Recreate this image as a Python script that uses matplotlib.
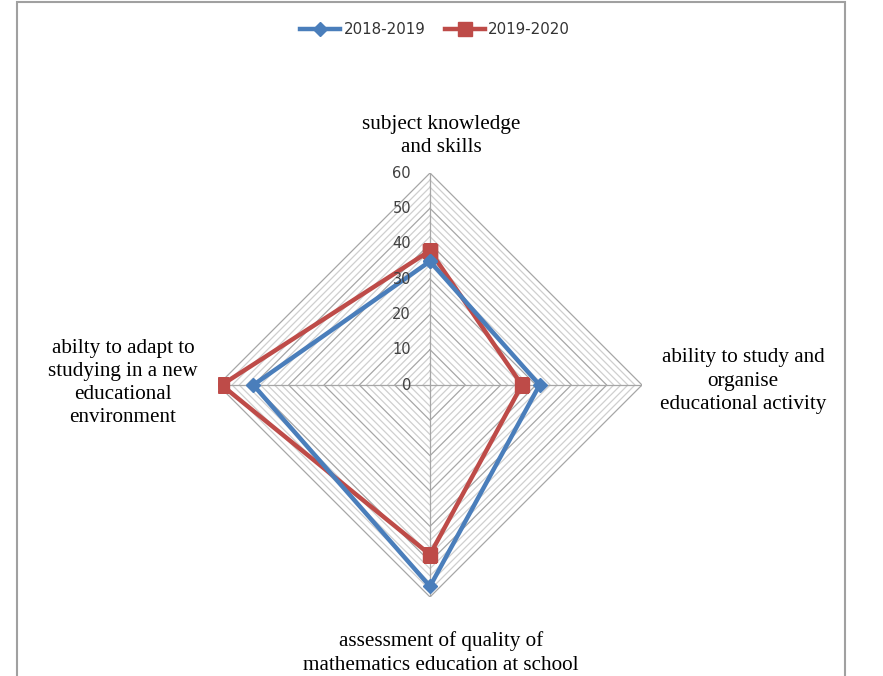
import numpy as np
import matplotlib
matplotlib.use("Agg")
import matplotlib.pyplot as plt
from matplotlib.patches import Rectangle

categories = ["subject knowledge\nand skills",
              "ability to study and\norganise\neducational activity",
              "assessment of quality of\nmathematics education at school",
              "abilty to adapt to\nstudying in a new\neducational\nenvironment"]
series_names = ["2018-2019", "2019-2020"]
vals_2018 = [35, 31, 57, 50]
vals_2019 = [38, 26, 48, 59]
r_ticks = [0, 10, 20, 30, 40, 50, 60]

W, H = 883, 676
fig = plt.figure(figsize=(W / 100, H / 100), dpi=100)

cx, cy, R = 430, 385, 212
ax = fig.add_axes([(cx - R) / W, (H - cy - R) / H, 2 * R / W, 2 * R / H], projection="polar")
ax.set_theta_offset(np.pi / 2)
ax.set_theta_direction(-1)
ax.set_ylim(0, 60)
ax.grid(False)
ax.spines["polar"].set_visible(False)
ax.set_xticks([])
ax.set_yticks([])
ax.patch.set_alpha(0)

angles = np.arange(len(categories)) * 2 * np.pi / len(categories)
closed = np.append(angles, angles[0])

# diamond grid
for r in range(2, 61, 2):
    col = "#a6a6a6" if r % 10 == 0 else "#cfcfcf"
    ax.plot(closed, [r] * 5, color=col, lw=0.9, zorder=1)
for a in angles:
    ax.plot([a, a], [0, 60], color="#a6a6a6", lw=0.9, zorder=1)

l1, = ax.plot(closed, vals_2018 + vals_2018[:1], color="#4a7ebb", lw=3.2,
              marker="D", ms=7, zorder=3, label=series_names[0])
l2, = ax.plot(closed, vals_2019 + vals_2019[:1], color="#be4b48", lw=3.2,
              marker="s", ms=10, zorder=2, label=series_names[1])

# radial tick labels along the top axis
for t in r_ticks:
    y = cy - R * t / 60
    fig.text(411 / W, 1 - y / H, str(t), ha="right", va="center",
             fontsize=10.5, color="#404040", family="DejaVu Sans")

# category labels
lab_pos = [(441, 136), (743, 381), (441, 653), (123, 383)]
for txt, (x, y) in zip(categories, lab_pos):
    fig.text(x / W, 1 - y / H, txt, ha="center", va="center", fontsize=15.2,
             family="Liberation Serif", linespacing=1.3, color="black")

fig.legend(handles=[l1, l2], loc="center", bbox_to_anchor=(435 / W, 1 - 30 / H),
           ncol=2, frameon=False, fontsize=10.8, handlelength=2.7,
           handletextpad=0.2, columnspacing=1.3, labelcolor="#333333")

fig.patches.append(Rectangle((17 / W, -0.05), (845 - 17) / W, 1.05 - 2 / H,
                             transform=fig.transFigure, fill=False,
                             edgecolor="#a0a0a0", lw=1.5))

fig.savefig("out.png", dpi=100)
